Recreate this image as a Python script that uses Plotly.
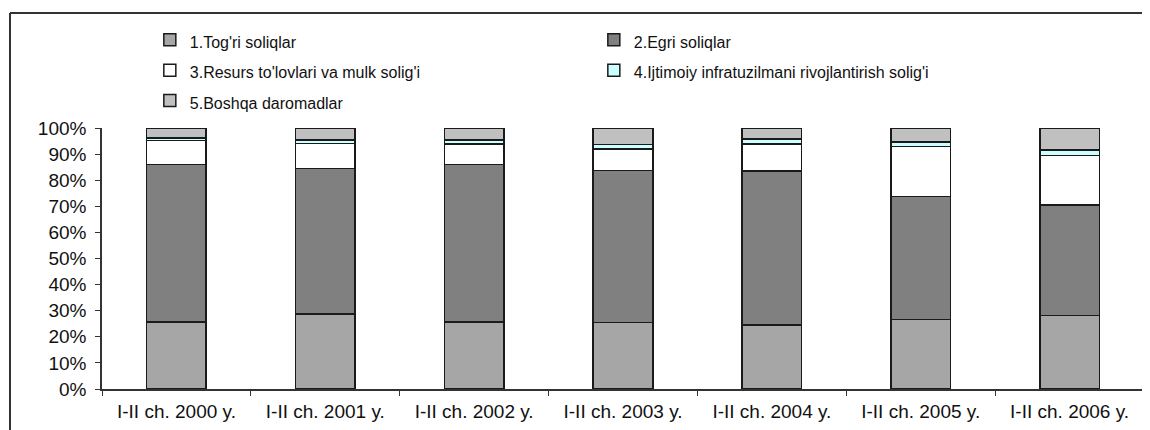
import plotly.graph_objects as go

categories = ["I-II ch. 2000 y.", "I-II ch. 2001 y.", "I-II ch. 2002 y.", "I-II ch. 2003 y.",
              "I-II ch. 2004 y.", "I-II ch. 2005 y.", "I-II ch. 2006 y."]
series_names = ["1.Tog'ri soliqlar", "2.Egri soliqlar", "3.Resurs to'lovlari va mulk solig'i",
                "4.Ijtimoiy infratuzilmani rivojlantirish solig'i", "5.Boshqa daromadlar"]
togri = [25.7, 28.7, 25.7, 25.5, 24.6, 26.7, 28.2]
egri = [60.3, 55.7, 60.3, 58.2, 59.0, 47.0, 42.3]
resurs = [9.2, 9.6, 7.9, 8.3, 10.2, 19.3, 18.9]
ijtimoiy = [1.0, 1.5, 1.5, 1.6, 1.9, 1.7, 2.2]
boshqa = [3.8, 4.5, 4.6, 6.4, 4.3, 5.3, 8.4]
colors = ["#A6A6A6", "#808080", "#FFFFFF", "#CCFFFF", "#C0C0C0"]
y_ticks = [0, 10, 20, 30, 40, 50, 60, 70, 80, 90, 100]

fig = go.Figure()
for name, vals, col in zip(series_names, [togri, egri, resurs, ijtimoiy, boshqa], colors):
    fig.add_trace(go.Bar(x=categories, y=vals, width=0.4,
                         name=f"<span style='font-size:16px'>{name}</span>",
                         marker=dict(color=col, line=dict(color="#1a1a1a", width=1.5))))

# the page has an 8px body margin, so the figure is sized/offset to compensate
fig.update_layout(
    width=1142, height=422,
    barmode="stack",
    paper_bgcolor="white", plot_bgcolor="white",
    margin=dict(l=94, r=6, t=120, b=41, autoexpand=False),
    font=dict(family="Liberation Sans, Arial, sans-serif", size=18, color="#111111"),
    legend=dict(orientation="h", xref="paper", yref="paper",
                x=0.0459, y=1.415, xanchor="left", yanchor="top",
                entrywidth=399, entrywidthmode="pixels", traceorder="normal",
                font=dict(size=21, color="#111111"), itemwidth=30, bgcolor="rgba(0,0,0,0)"),
    showlegend=True,
    xaxis=dict(showline=True, linecolor="#333333", linewidth=1.5, ticks="outside",
               tickson="boundaries", ticklen=5, tickcolor="#333333", showgrid=False,
               tickfont=dict(size=19), ticklabelstandoff=4),
    yaxis=dict(range=[0, 100], tickvals=y_ticks, ticktext=[f"{v}%" for v in y_ticks],
               showline=True, linecolor="#333333", linewidth=1.5, ticks="outside", ticklen=5,
               tickcolor="#333333", showgrid=False, tickfont=dict(size=19),
               ticklabelstandoff=5),
)

# outer frame (top and left edges visible in the reference)
fig.add_shape(type="line", xref="paper", yref="paper", x0=-0.0883, x1=1.01, y0=1.4406, y1=1.4406,
              line=dict(color="#333333", width=2))
fig.add_shape(type="line", xref="paper", yref="paper", x0=-0.0883, x1=-0.0883, y0=1.4406, y1=-0.2,
              line=dict(color="#333333", width=2))

fig.write_html("out.html")
